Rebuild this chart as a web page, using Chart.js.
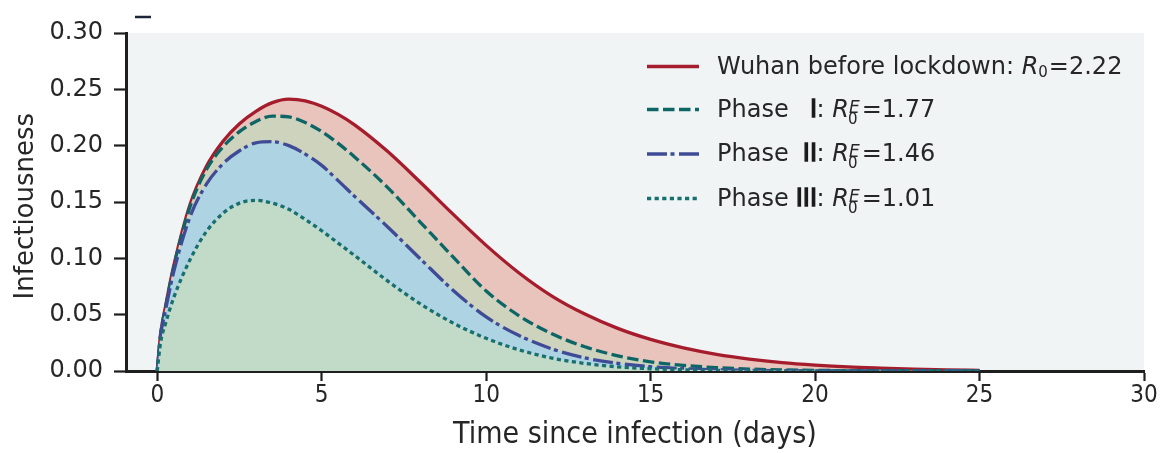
<!DOCTYPE html>
<html>
<head>
<meta charset="utf-8">
<script src="https://cdn.jsdelivr.net/npm/chart.js@4.4.1/dist/chart.umd.min.js"></script>
<style>
  html, body { margin: 0; padding: 0; background: #ffffff; }
  canvas { display: block; }
</style>
</head>
<body>
<canvas id="chart" width="1162" height="453"></canvas>
<script>
// days since infection (x values shared by every curve)
const days = [0, 0.1, 0.25, 0.5, 1, 1.5, 2, 2.5, 3, 3.5, 4, 4.5, 5, 5.5, 6,
  7, 8, 9, 10, 11, 12, 13, 14, 15, 16, 17, 18, 19, 20, 21, 22, 23, 24, 25];

// infectiousness
const wuhan = [0, 0.032, 0.057, 0.093, 0.148, 0.182, 0.204, 0.2195, 0.2305, 0.2382, 0.2413, 0.2398, 0.2350, 0.2278, 0.2185,
  0.1950, 0.1675, 0.1390, 0.1115, 0.0870, 0.0665, 0.0505, 0.0378, 0.0280, 0.0205, 0.0148, 0.0106, 0.0075, 0.0053, 0.0036, 0.0025, 0.0016, 0.0010, 0.0006];
const phase1 = [0, 0.032, 0.056, 0.092, 0.146, 0.179, 0.199, 0.2125, 0.2215, 0.2262, 0.2255, 0.2205, 0.2125, 0.2020, 0.1900,
  0.1630, 0.1320, 0.1010, 0.0710, 0.0490, 0.0330, 0.0215, 0.0135, 0.0082, 0.0050, 0.0030, 0.0017, 0.0010, 0.0006, 0.0003, 0.0002, 0.0001, 0.00005, 0];
const phase2 = [0, 0.031, 0.054, 0.088, 0.137, 0.166, 0.184, 0.1955, 0.2025, 0.2035, 0.2000, 0.1925, 0.1825, 0.1690, 0.1550,
  0.1280, 0.0995, 0.0715, 0.0480, 0.0315, 0.0196, 0.0117, 0.0068, 0.0038, 0.0021, 0.0011, 0.0006, 0.0003, 0.00015, 0.0001, 0.00005, 0.00002, 0.00001, 0];
const phase3 = [0, 0.025, 0.042, 0.065, 0.099, 0.124, 0.140, 0.149, 0.1515, 0.1490, 0.1435, 0.1345, 0.1245, 0.1135, 0.1025,
  0.0800, 0.0595, 0.0425, 0.0290, 0.0188, 0.0115, 0.0067, 0.0037, 0.0020, 0.0011, 0.0006, 0.0003, 0.00015, 0.0001, 0.00005, 0.00002, 0.00001, 0, 0];

const xTicks = [0, 5, 10, 15, 20, 25, 30];
const yTicks = [0, 0.05, 0.10, 0.15, 0.20, 0.25, 0.30];

const seriesNames = ['Wuhan before lockdown', 'Phase I', 'Phase II', 'Phase III'];
const seriesR = ['2.22', '1.77', '1.46', '1.01'];
const numerals = ['', 'I', 'II', 'III'];

const lineColors = ['#a51d2d', '#0e6566', '#3f4b96', '#17706f'];
const fillColors = ['#e8c4bc', '#cdd3bd', '#aed4e4', '#c2dac8'];
const dashes = [[], [11.5, 4.5], [20, 3.5, 4, 4.5], [4.2, 3.4]];

const TEXT = '#262626';
const AXIS = '#1e1e1e';

function pts(ys) {
  return days.map((d, i) => ({ x: d, y: ys[i] }));
}

const values = [wuhan, phase1, phase2, phase3];
const datasets = values.map((v, i) => ({
  label: seriesNames[i],
  data: pts(v),
  borderColor: lineColors[i],
  backgroundColor: fillColors[i],
  borderWidth: 3.3,
  borderDash: dashes[i],
  borderCapStyle: 'butt',
  fill: 'origin',
  pointRadius: 0,
  cubicInterpolationMode: 'monotone',
  order: 4 - i
}));

const plotBackground = {
  id: 'plotBackground',
  beforeDraw(chart) {
    const { ctx, chartArea: a } = chart;
    ctx.save();
    ctx.fillStyle = '#f0f4f5';
    ctx.fillRect(a.left, a.top, a.right - a.left, a.bottom - a.top);
    // small stray mark above the axes
    ctx.strokeStyle = '#1b2536';
    ctx.lineWidth = 2.5;
    ctx.beginPath();
    ctx.moveTo(135, 17);
    ctx.lineTo(151, 17);
    ctx.stroke();
    ctx.restore();
  }
};

const mathLegend = {
  id: 'mathLegend',
  afterDraw(chart) {
    const ctx = chart.ctx;
    const F = '"DejaVu Sans", sans-serif';
    const baselines = [73.5, 116.5, 161, 205.5];
    ctx.save();
    for (let i = 0; i < 4; i++) {
      const b = baselines[i];
      const ly = b - 7;
      ctx.strokeStyle = lineColors[i];
      ctx.lineWidth = 3.5;
      ctx.lineCap = 'butt';
      ctx.setLineDash(dashes[i]);
      ctx.beginPath();
      ctx.moveTo(647, ly);
      ctx.lineTo(699, ly);
      ctx.stroke();
      ctx.setLineDash([]);

      ctx.fillStyle = TEXT;
      ctx.textBaseline = 'alphabetic';
      ctx.textAlign = 'left';
      let x = 717;
      if (i === 0) {
        ctx.font = '24px ' + F;
        const t = seriesNames[0] + ': ';
        ctx.fillText(t, x, b);
        x += ctx.measureText(t).width;
        ctx.font = 'italic 24px ' + F;
        ctx.fillText('R', x, b);
        x += ctx.measureText('R').width;
        ctx.font = '15px ' + F;
        ctx.fillText('0', x, b + 3);
        x += ctx.measureText('0').width + 1;
      } else {
        ctx.font = '24px ' + F;
        ctx.fillText('Phase', x, b);
        // heavy roman numeral, right aligned so the colons line up
        ctx.textAlign = 'right';
        ctx.strokeStyle = '#1a1a1a';
        ctx.fillStyle = '#1a1a1a';
        ctx.lineWidth = 1.3;
        ctx.fillText(numerals[i], 817, b);
        ctx.strokeText(numerals[i], 817, b);
        ctx.fillStyle = TEXT;
        ctx.textAlign = 'left';
        x = 816.5;
        ctx.fillText(': ', x, b);
        x += ctx.measureText(': ').width;
        ctx.font = 'italic 24px ' + F;
        ctx.fillText('R', x, b);
        x += ctx.measureText('R').width;
        ctx.font = 'italic 17px ' + F;
        ctx.fillText('E', x, b - 4);
        const wE = ctx.measureText('E').width;
        ctx.font = '15px ' + F;
        ctx.fillText('0', x - 1, b + 7);
        x += wE + 2;
      }
      ctx.font = '24px ' + F;
      ctx.fillText('=' + seriesR[i], x, b);
    }
    ctx.restore();
  }
};

new Chart(document.getElementById('chart'), {
  type: 'line',
  data: { datasets: datasets },
  options: {
    responsive: false,
    animation: false,
    events: [],
    layout: { padding: { left: 0, right: 18, top: 33, bottom: 0 } },
    plugins: {
      legend: { display: false },
      tooltip: { enabled: false }
    },
    scales: {
      x: {
        type: 'linear',
        min: -0.95,
        max: 30,
        afterBuildTicks(scale) { scale.ticks = xTicks.map(v => ({ value: v })); },
        afterFit(scale) { scale.height = 82; },
        ticks: {
          color: TEXT,
          padding: 0,
          maxRotation: 0,
          font: { family: '"DejaVu Sans Condensed", "DejaVu Sans"', size: 24 }
        },
        grid: { drawOnChartArea: false, drawTicks: true, tickLength: 10, tickWidth: 2.2, tickColor: AXIS },
        border: { display: true, color: AXIS, width: 3 },
        title: {
          display: true,
          text: 'Time since infection (days)',
          color: TEXT,
          padding: { top: 10, bottom: 0 },
          font: { family: '"DejaVu Sans Condensed", "DejaVu Sans"', size: 30 }
        }
      },
      y: {
        type: 'linear',
        min: 0,
        max: 0.30,
        afterBuildTicks(scale) { scale.ticks = yTicks.map(v => ({ value: v })); },
        afterFit(scale) { scale.width = 126; },
        ticks: {
          color: TEXT,
          padding: 11,
          font: { family: '"DejaVu Sans"', size: 24 },
          callback: v => v.toFixed(2)
        },
        grid: { drawOnChartArea: false, drawTicks: true, tickLength: 12, tickWidth: 2.2, tickColor: AXIS },
        border: { display: true, color: AXIS, width: 3 },
        title: {
          display: true,
          text: 'Infectiousness\u00a0',
          color: TEXT,
          padding: { top: 11, bottom: 4 },
          font: { family: '"DejaVu Sans"', size: 26 }
        }
      }
    }
  },
  plugins: [plotBackground, mathLegend]
});
</script>
</body>
</html>
